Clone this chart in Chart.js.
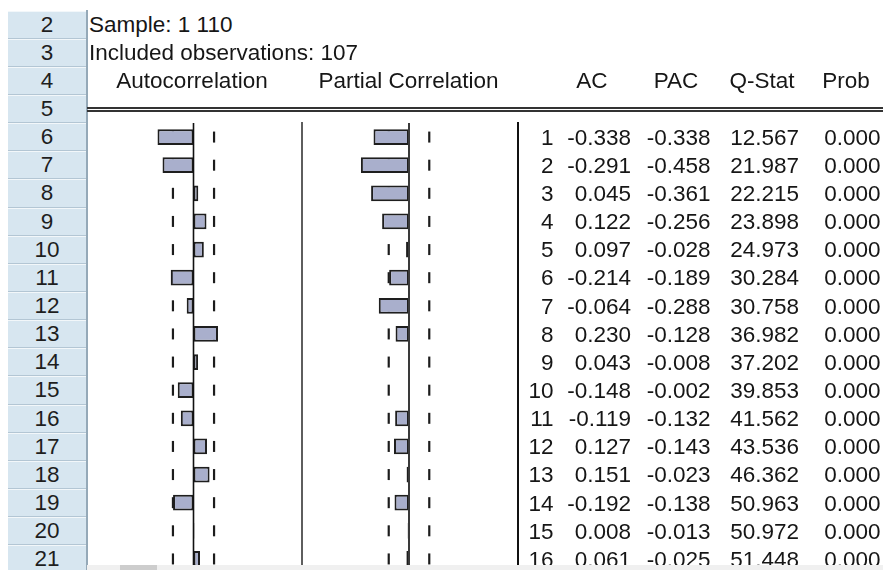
<!DOCTYPE html>
<html>
<head>
<meta charset="utf-8">
<script src="https://cdn.jsdelivr.net/npm/chart.js@4.4.0/dist/chart.umd.min.js"></script>
<style>
  html, body { margin: 0; padding: 0; background: #fff; }
  body {
    width: 883px; height: 570px; overflow: hidden; position: relative;
    font-family: "Liberation Sans", Arial, sans-serif; font-size: 22.5px; color: #161616;
  }
  .txt { position: absolute; white-space: nowrap; }
  .rowhead {
    position: absolute; left: 8px; width: 78px; box-sizing: border-box;
    background: #d7e6f0; text-align: center; color: #1e1e1e;
    border-top: 1px solid #f2f7fa; border-bottom: 1px solid #b3c6d4;
  }
  .line { position: absolute; }
  .plot { position: absolute; top: 123px; }
  .plot canvas { display: block; }
</style>
</head>
<body>
<div class="plot" style="left:87px;"><canvas id="ac_chart" width="213" height="450" style="width:213px;height:450px"></canvas></div>
<div class="plot" style="left:304px;"><canvas id="pac_chart" width="210" height="450" style="width:210px;height:450px"></canvas></div>

<script>
const lags = ["1", "2", "3", "4", "5", "6", "7", "8", "9", "10", "11", "12", "13", "14", "15", "16"];
const acValues = [-0.338, -0.291, 0.045, 0.122, 0.097, -0.214, -0.064, 0.230, 0.043, -0.148, -0.119, 0.127, 0.151, -0.192, 0.008, 0.061];
const pacValues = [-0.338, -0.458, -0.361, -0.256, -0.028, -0.189, -0.288, -0.128, -0.008, -0.002, -0.132, -0.143, -0.023, -0.138, -0.013, -0.025];
const qStats = [12.567, 21.987, 22.215, 23.898, 24.973, 30.284, 30.758, 36.982, 37.202, 39.853, 41.562, 43.536, 46.362, 50.963, 50.972, 51.448];
const probValues = [0.000, 0.000, 0.000, 0.000, 0.000, 0.000, 0.000, 0.000, 0.000, 0.000, 0.000, 0.000, 0.000, 0.000, 0.000, 0.000];
const confBand = 0.193;

const sampleText = "Sample: 1 110";
const obsText = "Included observations: 107";
const rowNumbers = [2, 3, 4, 5, 6, 7, 8, 9, 10, 11, 12, 13, 14, 15, 16, 17, 18, 19, 20, 21];

const ROW_H = 28.15;
const rowTop = (r) => 10.5 + (r - 2) * ROW_H;

const addEl = (cls, css, text) => {
  const el = document.createElement("div");
  el.className = cls;
  el.style.cssText = css;
  if (text !== undefined) el.textContent = text;
  document.body.appendChild(el);
  return el;
};

// text in a sheet row; align is left / right / center around x
const cell = (text, row, x, align) => {
  const top = rowTop(row) + 0.5;
  let css = `top:${top}px;height:${ROW_H}px;line-height:${ROW_H}px;`;
  if (align == "right") css += `left:${x - 200}px;width:200px;text-align:right;`;
  else if (align == "center") css += `left:${x - 150}px;width:300px;text-align:center;`;
  else css += `left:${x}px;`;
  addEl("txt", css, text);
};

// row header column
rowNumbers.forEach((r) => {
  addEl("rowhead", `top:${rowTop(r)}px;height:${ROW_H}px;line-height:${ROW_H - 2}px;`, String(r));
});
addEl("line", "left:86px;top:10px;width:1.5px;height:560px;background:#95a9b8;");

cell(sampleText, 2, 89, "left");
cell(obsText, 3, 89, "left");
cell("Autocorrelation", 4, 192, "center");
cell("Partial Correlation", 4, 408.5, "center");
cell("AC", 4, 592, "center");
cell("PAC", 4, 676, "center");
cell("Q-Stat", 4, 762, "center");
cell("Prob", 4, 846, "center");

// double rule under the header
addEl("line", "left:87px;top:106.7px;width:796px;height:2px;background:#333;");
addEl("line", "left:87px;top:110.3px;width:796px;height:2px;background:#333;");

// column separators
addEl("line", "left:300.7px;top:122px;width:2px;height:448px;background:#5e5e5e;");
addEl("line", "left:516.5px;top:122px;width:2px;height:448px;background:#111;");

lags.forEach((lag, i) => {
  const row = i + 6;
  cell(lag, row, 553.5, "right");
  cell(acValues[i].toFixed(3), row, 631, "right");
  cell(pacValues[i].toFixed(3), row, 710.5, "right");
  cell(qStats[i].toFixed(3), row, 799, "right");
  cell(probValues[i].toFixed(3), row, 880.5, "right");
});

// horizontal scrollbar strip at the bottom
addEl("line", "left:87px;top:565px;width:796px;height:5px;background:#f0f0f0;z-index:5;");
addEl("line", "left:120px;top:565px;width:37px;height:5px;background:#cdcdcd;z-index:6;");

const zeroLine = {
  id: "zeroLine",
  afterDatasetsDraw(chart, args, opts) {
    const { ctx, chartArea, scales } = chart;
    const x = scales.x.getPixelForValue(0);
    ctx.save();
    ctx.strokeStyle = opts.color;
    ctx.lineWidth = opts.width;
    ctx.beginPath();
    ctx.moveTo(x, chartArea.top);
    ctx.lineTo(x, chartArea.bottom);
    ctx.stroke();
    ctx.restore();
  },
};

const bandPoints = () => {
  const pts = [];
  lags.forEach((lag) => {
    pts.push({ x: -confBand, y: lag });
    pts.push({ x: confBand, y: lag });
  });
  return pts;
};

const showCorrChart = (id, values, zeroWidth, zeroColor) => {
  new Chart(document.getElementById(id), {
    type: "bar",
    data: {
      labels: lags,
      datasets: [
        {
          data: values,
          backgroundColor: "#a9afcc",
          borderColor: "#1e1e1e",
          borderWidth: 2,
          borderSkipped: false,
          categoryPercentage: 1,
          barPercentage: 0.56,
          order: 0,
        },
        {
          type: "scatter",
          data: bandPoints(),
          pointStyle: "line",
          pointRotation: 90,
          pointRadius: 5.5,
          pointBorderWidth: 2.2,
          pointBorderColor: "#1c1c1c",
          showLine: false,
          clip: false,
          order: 1,
        },
      ],
    },
    options: {
      indexAxis: "y",
      responsive: false,
      animation: false,
      events: [],
      layout: { padding: 0, autoPadding: false },
      scales: {
        x: { type: "linear", min: -1, max: 1, display: false },
        y: { type: "category", offset: true, display: false },
      },
      plugins: {
        legend: { display: false },
        tooltip: { enabled: false },
        zeroLine: { width: zeroWidth, color: zeroColor },
      },
    },
    plugins: [zeroLine],
  });
};

showCorrChart("ac_chart", acValues, 1.6, "#111");
showCorrChart("pac_chart", pacValues, 2, "#3a3a3a");
</script>
</body>
</html>
